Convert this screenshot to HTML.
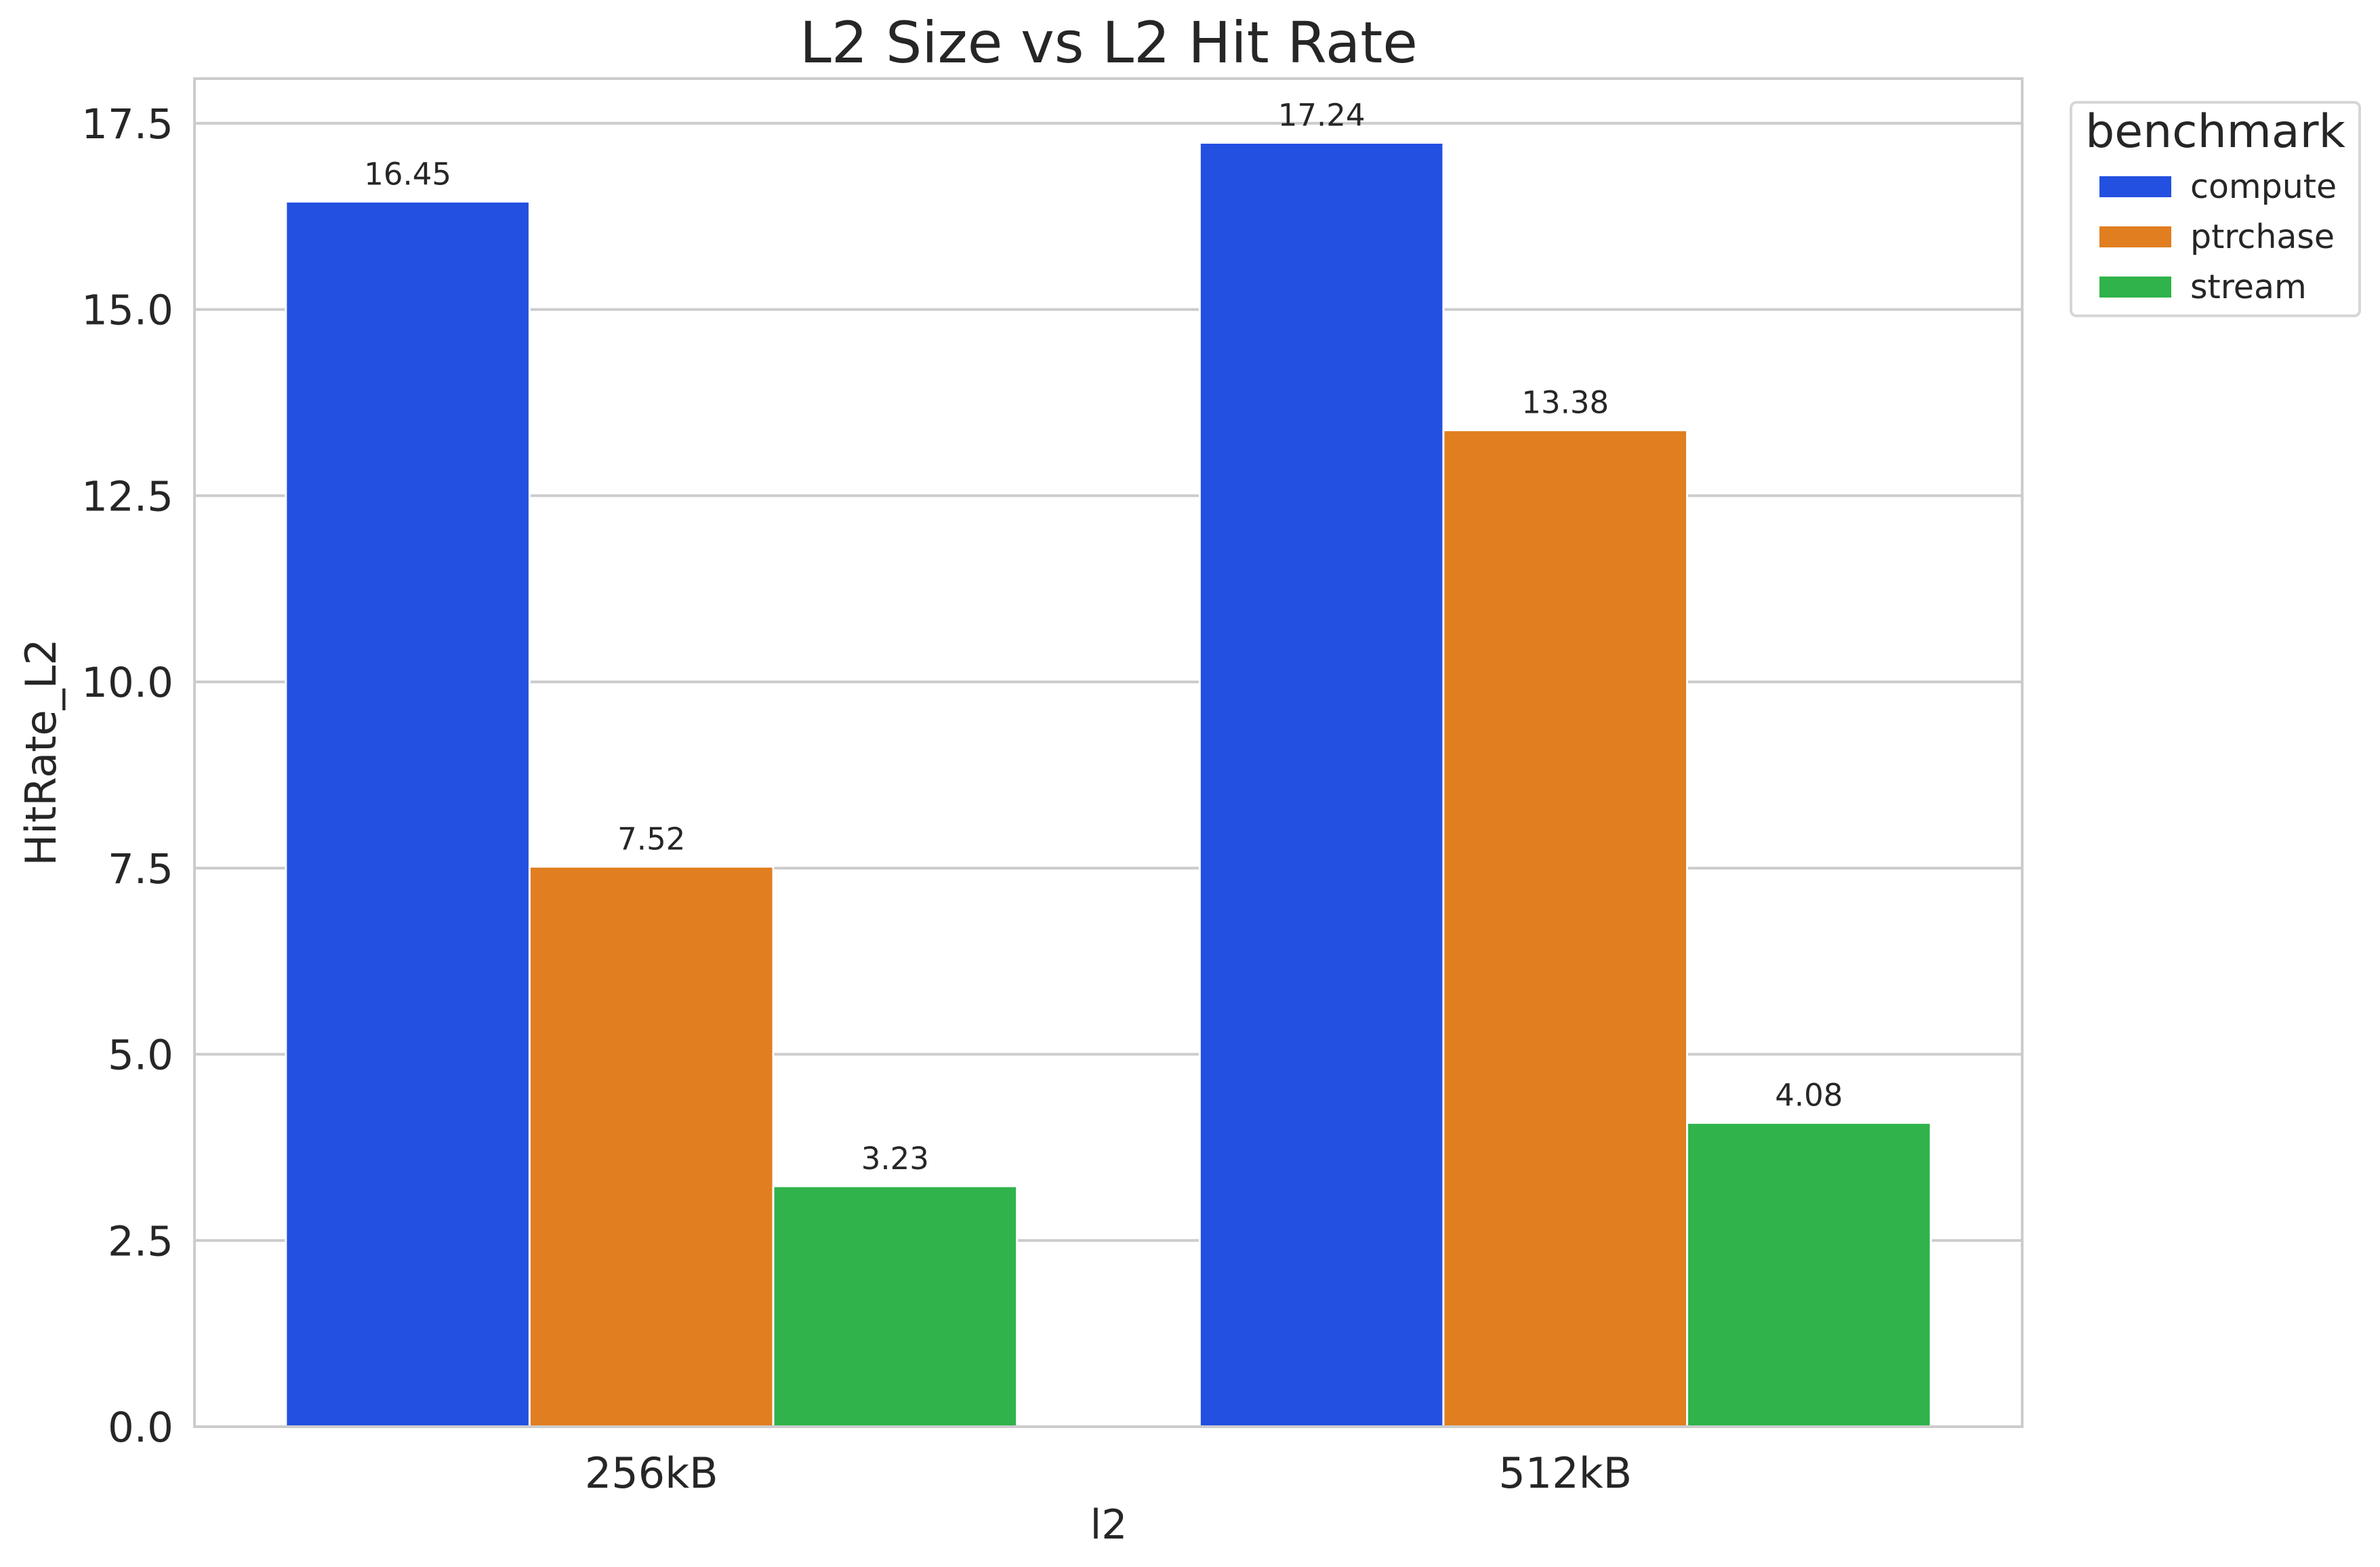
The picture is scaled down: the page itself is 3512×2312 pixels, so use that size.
<!DOCTYPE html>
<html><head><meta charset="utf-8">
<style>
html,body{margin:0;padding:0;background:#fff;}
svg{display:block;font-family:"DejaVu Sans","Liberation Sans",sans-serif;}
</style></head>
<body>
<svg id="chart" width="3512" height="2312" viewBox="0 0 3512 2312" xmlns="http://www.w3.org/2000/svg">
  <rect x="0" y="0" width="3512" height="2312" fill="#fff"/>
  <g id="grid"></g>
  <g id="bars"></g>
  <g id="labels"></g>
  <rect x="287" y="116" width="2697" height="1989" fill="none" stroke="#cccccc" stroke-width="4"/>
  <g id="yticks"></g>
  <g id="xticks"></g>
  <text x="1636" y="92" font-size="84" fill="#262626" text-anchor="middle">L2 Size vs L2 Hit Rate</text>
  <text x="1636" y="2270" font-size="60" fill="#262626" text-anchor="middle">l2</text>
  <text x="0" y="0" font-size="62" fill="#262626" text-anchor="middle" transform="translate(82,1110) rotate(-90)">HitRate_L2</text>
  <g>
    <rect x="3056" y="151" width="426" height="315" rx="8" fill="#fff" stroke="#d6d6d6" stroke-width="4"/>
    <text x="3269" y="217" font-size="68" fill="#262626" text-anchor="middle">benchmark</text>
    <g id="legend-items"></g>
  </g>
</svg>
<script>
const categories = ["256kB", "512kB"];
const seriesNames = ["compute", "ptrchase", "stream"];
const computeValues = [16.45, 17.24];
const ptrchaseValues = [7.52, 13.38];
const streamValues = [3.23, 4.08];
const yTickValues = [0, 2.5, 5, 7.5, 10, 12.5, 15, 17.5];
const yTickLabels = ["0.0", "2.5", "5.0", "7.5", "10.0", "12.5", "15.0", "17.5"];

const seriesValues = [computeValues, ptrchaseValues, streamValues];
const colors = ["#2350e0", "#e07e20", "#2fb34a"];
const NS = "http://www.w3.org/2000/svg";
const L = 287, R = 2984, T = 116, B = 2105;
const yMax = 18.10;
function yScale(v){ return B - v / yMax * (B - T); }
function xScale(i){ return L + (i + 0.5) / categories.length * (R - L); }
const unit = (R - L) / categories.length;
const groupW = unit * 0.8, barW = groupW / seriesNames.length;

function mk(tag, attrs, parent){
  const el = document.createElementNS(NS, tag);
  for (const k in attrs) el.setAttribute(k, attrs[k]);
  parent.appendChild(el);
  return el;
}

const grid = document.getElementById('grid');
const yt = document.getElementById('yticks');
yTickValues.forEach((v, i) => {
  const y = yScale(v);
  const ln = mk('line', {x1: L, x2: R, y1: y, y2: y, stroke: '#cccccc', 'stroke-width': 4}, grid);
  
  
  const t = mk('text', {x: 256, y: y + 22, 'font-size': 61, fill: '#262626', 'text-anchor': 'end'}, yt);
  t.textContent = yTickLabels[i];
  
  
});

const xt = document.getElementById('xticks');
categories.forEach((c, i) => {
  const t = mk('text', {x: xScale(i), y: 2195, 'font-size': 62, fill: '#262626', 'text-anchor': 'middle'}, xt);
  t.textContent = c;
  
  
});

const bars = document.getElementById('bars');
const labels = document.getElementById('labels');
seriesValues.forEach((vals, s) => {
  vals.forEach((v, i) => {
    const x = xScale(i) - groupW / 2 + s * barW;
    const y = yScale(v);
    const r = mk('rect', {x: x, y: y, width: barW, height: B - y, fill: colors[s], stroke: '#ffffff', 'stroke-width': 3}, bars);
    
    
    const t = mk('text', {x: x + barW / 2, y: y - 25, 'font-size': 45, fill: '#262626', 'text-anchor': 'middle'}, labels);
    t.textContent = v.toFixed(2);
    
    
  });
});

const li = document.getElementById('legend-items');
seriesNames.forEach((n, s) => {
  const cy = 275 + s * 74;
  const r = mk('rect', {x: 3098, y: cy - 15, width: 106, height: 31, fill: colors[s]}, li);
  
  
  const t = mk('text', {x: 3232, y: cy + 17, 'font-size': 49, fill: '#262626'}, li);
  t.textContent = n;
  
  
});
</script>
</body></html>
